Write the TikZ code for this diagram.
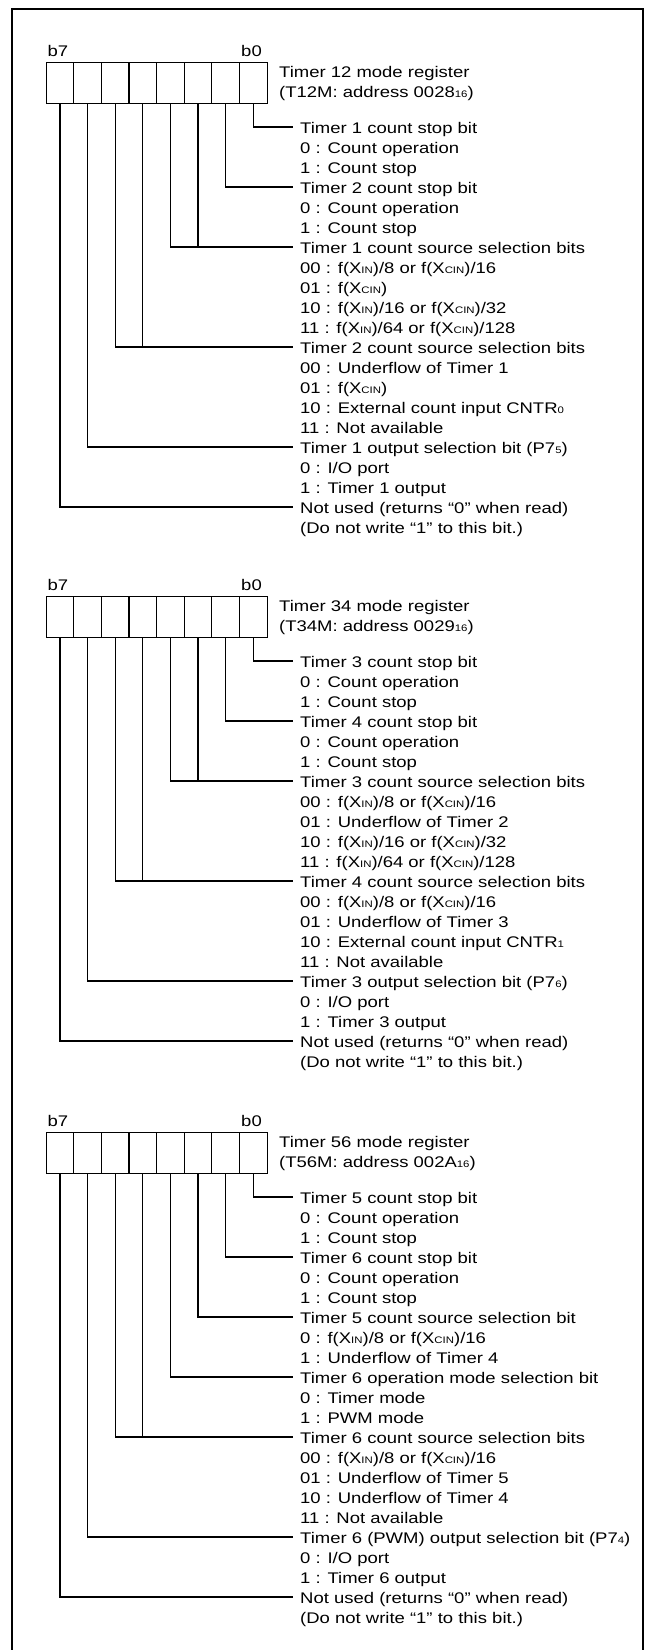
\documentclass[tikz,border=0pt]{standalone}
\usepackage{fontspec}
\setmainfont{Liberation Sans}[FakeStretch=1.2]
\newcommand\smallsub[1]{{\fontsize{9.5}{10}\selectfont #1}}
\newcommand\xin{X\smallsub{IN}}
\newcommand\xcin{X\smallsub{CIN}}
\newcommand\regframe[4]{%
  \foreach \i in {0,...,7} \node[cellbox] (#1c\i) at ({45.5+27.625*\i},#2) {};
  \node[txt] (#1b7) at (47.5,{#2-6}) {b7};
  \node[txt,anchor=base east] (#1b0) at (262,{#2-6}) {b0};
  \node[txt] (#1ta) at (279,{#2+15.5}) {#3};
  \node[txt] (#1tb) at (279,{#2+35.5}) {#4};
}
\newcommand\reglines[3]{%
  \foreach \t [count=\k from 0] in {#3} {
    \node[txt] (#1t\k) at (300,{#2+71.5+20*\k}) {\t};
    \coordinate (#1e\k) at (293,{#2+65+20*\k});
  }
}
\begin{document}
\begin{tikzpicture}[x=1pt,y=-1pt,
  txt/.style={anchor=base west,inner sep=0pt,font=\fontsize{15.4}{20}\selectfont},
  cellbox/.style={draw,line width=1.2pt,minimum width=27.625pt,minimum height=41pt,inner sep=0pt,anchor=north west},
  lead/.style={line width=1.2pt},
  frameline/.style={line width=2.5pt}]
\useasboundingbox (0,0) rectangle (647,1650);
\draw[frameline] (12,1655) -- (12,9) -- (643,9) -- (643,1655);

% ---------- Section 1 ----------
\regframe{s1}{62}{Timer 12 mode register}{(T12M: address 0028\smallsub{16})}
\reglines{s1}{62}{{Timer 1 count stop bit},{0 : Count operation},{1 : Count stop},
{Timer 2 count stop bit},{0 : Count operation},{1 : Count stop},
{Timer 1 count source selection bits},{00 : f(\xin)/8 or f(\xcin)/16},{01 : f(\xcin)},
{10 : f(\xin)/16 or f(\xcin)/32},{11 : f(\xin)/64 or f(\xcin)/128},
{Timer 2 count source selection bits},{00 : Underflow of Timer 1},{01 : f(\xcin)},
{10 : External count input CNTR\smallsub{0}},{11 : Not available},
{Timer 1 output selection bit (P7\smallsub{5})},{0 : I/O port},{1 : Timer 1 output},
{Not used (returns “0” when read)},{(Do not write “1” to this bit.)}}
\draw[lead] (s1c7.south) |- (s1e0);
\draw[lead] (s1c6.south) |- (s1e3);
\draw[lead] (s1c5.south) |- (s1e6);
\draw[lead] (s1c4.south) |- (s1e6);
\draw[lead] (s1c3.south) |- (s1e11);
\draw[lead] (s1c2.south) |- (s1e11);
\draw[lead] (s1c1.south) |- (s1e16);
\draw[lead] (s1c0.south) |- (s1e19);

% ---------- Section 2 ----------
\regframe{s2}{596}{Timer 34 mode register}{(T34M: address 0029\smallsub{16})}
\reglines{s2}{596}{{Timer 3 count stop bit},{0 : Count operation},{1 : Count stop},
{Timer 4 count stop bit},{0 : Count operation},{1 : Count stop},
{Timer 3 count source selection bits},{00 : f(\xin)/8 or f(\xcin)/16},{01 : Underflow of Timer 2},
{10 : f(\xin)/16 or f(\xcin)/32},{11 : f(\xin)/64 or f(\xcin)/128},
{Timer 4 count source selection bits},{00 : f(\xin)/8 or f(\xcin)/16},{01 : Underflow of Timer 3},
{10 : External count input CNTR\smallsub{1}},{11 : Not available},
{Timer 3 output selection bit (P7\smallsub{6})},{0 : I/O port},{1 : Timer 3 output},
{Not used (returns “0” when read)},{(Do not write “1” to this bit.)}}
\draw[lead] (s2c7.south) |- (s2e0);
\draw[lead] (s2c6.south) |- (s2e3);
\draw[lead] (s2c5.south) |- (s2e6);
\draw[lead] (s2c4.south) |- (s2e6);
\draw[lead] (s2c3.south) |- (s2e11);
\draw[lead] (s2c2.south) |- (s2e11);
\draw[lead] (s2c1.south) |- (s2e16);
\draw[lead] (s2c0.south) |- (s2e19);

% ---------- Section 3 ----------
\regframe{s3}{1132}{Timer 56 mode register}{(T56M: address 002A\smallsub{16})}
\reglines{s3}{1132}{{Timer 5 count stop bit},{0 : Count operation},{1 : Count stop},
{Timer 6 count stop bit},{0 : Count operation},{1 : Count stop},
{Timer 5 count source selection bit},{0 : f(\xin)/8 or f(\xcin)/16},{1 : Underflow of Timer 4},
{Timer 6 operation mode selection bit},{0 : Timer mode},{1 : PWM mode},
{Timer 6 count source selection bits},{00 : f(\xin)/8 or f(\xcin)/16},{01 : Underflow of Timer 5},
{10 : Underflow of Timer 4},{11 : Not available},
{Timer 6 (PWM) output selection bit (P7\smallsub{4})},{0 : I/O port},{1 : Timer 6 output},
{Not used (returns “0” when read)},{(Do not write “1” to this bit.)}}
\draw[lead] (s3c7.south) |- (s3e0);
\draw[lead] (s3c6.south) |- (s3e3);
\draw[lead] (s3c5.south) |- (s3e6);
\draw[lead] (s3c4.south) |- (s3e9);
\draw[lead] (s3c3.south) |- (s3e12);
\draw[lead] (s3c2.south) |- (s3e12);
\draw[lead] (s3c1.south) |- (s3e17);
\draw[lead] (s3c0.south) |- (s3e20);
\end{tikzpicture}
\end{document}
